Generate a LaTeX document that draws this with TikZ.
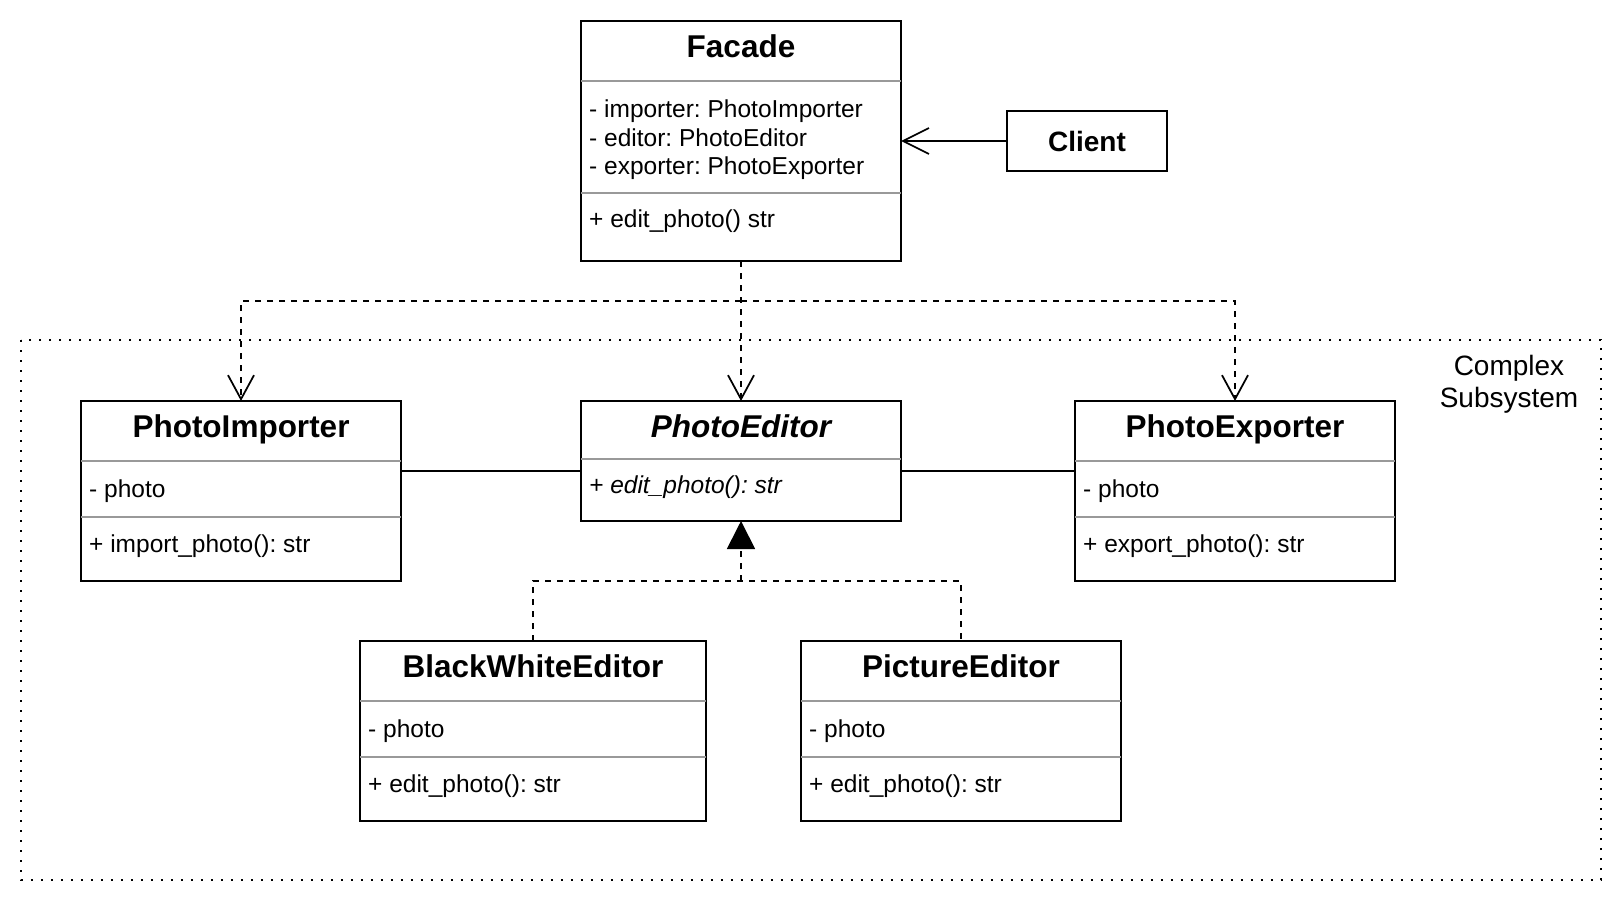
\documentclass[tikz,border=0pt]{standalone}
\usepackage{fontspec}
\setmainfont{Liberation Sans}
\frenchspacing
\usetikzlibrary{arrows.meta}
\definecolor{splitgray}{RGB}{153,153,153}
\tikzstyle{classbox}=[draw=black,line width=1.75pt,inner sep=0pt,outer sep=0pt,anchor=north west]
\tikzstyle{classname}=[anchor=base,inner sep=0pt,font=\fontsize{31.5}{36}\selectfont\bfseries]
\tikzstyle{members}=[anchor=base west,inner sep=0pt,align=left,font=\fontsize{24.5}{28.5}\selectfont]
\tikzstyle{splitline}=[draw=splitgray,line width=1.75pt]
\tikzstyle{link}=[line width=1.75pt]
\tikzstyle{uses}=[line width=1.75pt,dash pattern=on 6pt off 6pt,-{Straight Barb[length=24pt,width=26pt]}]
\tikzstyle{realizes}=[line width=1.75pt,dash pattern=on 6pt off 6pt]

\begin{document}
\begin{tikzpicture}[x=1pt,y=-1pt]
	\useasboundingbox (0,0) rectangle (1624,904);
	% subsystem frame
	\draw[line width=1.75pt,dash pattern=on 1.75pt off 8.25pt] (21,340) rectangle (1601,880);
	\node[anchor=base,inner sep=0pt,align=center,font=\fontsize{28}{31.5}\selectfont] (subsys) at (1509,407) {Complex\\Subsystem};

	% facade
	\node[classbox,minimum width=320pt,minimum height=240pt] (facade) at (581,21) {};
	\node[classname] (facade-name) at (741,58) {Facade};
	\draw[splitline] ([yshift=-60pt]facade.north west) -- ([yshift=-60pt]facade.north east);
	\node[members] (facade-attr) at (589,175) {- importer: PhotoImporter\\- editor: PhotoEditor\\- exporter: PhotoExporter};
	\draw[splitline] ([yshift=-172pt]facade.north west) -- ([yshift=-172pt]facade.north east);
	\node[members] (facade-ops) at (589,227) {+ edit\_photo() str};

	\node[draw=black,line width=1.75pt,minimum width=160pt,minimum height=60pt,font=\fontsize{28}{32}\selectfont\bfseries] (client) at (1087,141) {Client};

	% subsystem classes
	\node[classbox,minimum width=320pt,minimum height=180pt] (importer) at (81,401) {};
	\node[classname] (importer-name) at (241,437) {PhotoImporter};
	\draw[splitline] ([yshift=-60pt]importer.north west) -- ([yshift=-60pt]importer.north east);
	\node[members] (importer-attr) at (89,497) {- photo};
	\draw[splitline] ([yshift=-116pt]importer.north west) -- ([yshift=-116pt]importer.north east);
	\node[members] (importer-ops) at (89,552) {+ import\_photo(): str};

	\node[classbox,minimum width=320pt,minimum height=120pt] (editor) at (581,401) {};
	\node[classname,font=\fontsize{31.5}{36}\selectfont\bfseries\itshape] (editor-name) at (741,437) {PhotoEditor};
	\draw[splitline] ([yshift=-58pt]editor.north west) -- ([yshift=-58pt]editor.north east);
	\node[members,font=\fontsize{24.5}{28.5}\selectfont\itshape] (editor-ops) at (589,493) {+ edit\_photo(): str};

	\node[classbox,minimum width=320pt,minimum height=180pt] (exporter) at (1075,401) {};
	\node[classname] (exporter-name) at (1235,437) {PhotoExporter};
	\draw[splitline] ([yshift=-60pt]exporter.north west) -- ([yshift=-60pt]exporter.north east);
	\node[members] (exporter-attr) at (1083,497) {- photo};
	\draw[splitline] ([yshift=-116pt]exporter.north west) -- ([yshift=-116pt]exporter.north east);
	\node[members] (exporter-ops) at (1083,552) {+ export\_photo(): str};

	\node[classbox,minimum width=346pt,minimum height=180pt] (bwe) at (360,641) {};
	\node[classname] (bwe-name) at (533,677) {BlackWhiteEditor};
	\draw[splitline] ([yshift=-60pt]bwe.north west) -- ([yshift=-60pt]bwe.north east);
	\node[members] (bwe-attr) at (368,737) {- photo};
	\draw[splitline] ([yshift=-116pt]bwe.north west) -- ([yshift=-116pt]bwe.north east);
	\node[members] (bwe-ops) at (368,792) {+ edit\_photo(): str};

	\node[classbox,minimum width=320pt,minimum height=180pt] (picture) at (801,641) {};
	\node[classname] (picture-name) at (961,677) {PictureEditor};
	\draw[splitline] ([yshift=-60pt]picture.north west) -- ([yshift=-60pt]picture.north east);
	\node[members] (picture-attr) at (809,737) {- photo};
	\draw[splitline] ([yshift=-116pt]picture.north west) -- ([yshift=-116pt]picture.north east);
	\node[members] (picture-ops) at (809,792) {+ edit\_photo(): str};

	% connectors
	\draw[link,-{Straight Barb[length=26pt,width=26pt]}] (client) -- (facade);
	\coordinate (fork) at (741,301);
	\draw[uses] (facade.south) -- (editor.north);
	\draw[uses] (fork) -| (importer.north);
	\draw[uses] (fork) -| (exporter.north);
	\draw[link] ([yshift=20pt]importer.east) -- ([yshift=-10pt]editor.west);
	\draw[link] ([yshift=-10pt]editor.east) -- ([yshift=20pt]exporter.west);
	\coordinate (join) at (741,581);
	\draw[realizes] (bwe.north) |- (join) -| (picture.north);
	\draw[realizes,-{Triangle[length=28pt,width=28pt]}] (join) -- (editor.south);
\end{tikzpicture}
\end{document}
